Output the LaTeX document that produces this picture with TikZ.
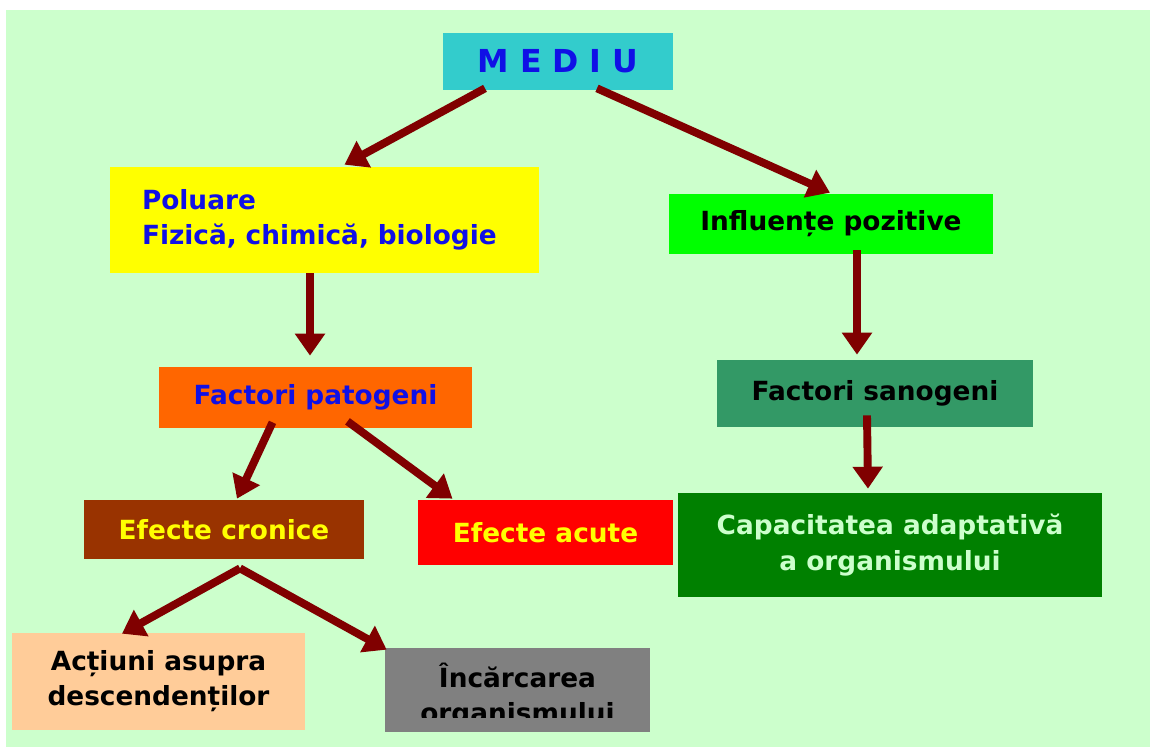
\documentclass[tikz,border=0pt]{standalone}
\usepackage{fontspec}
\setmainfont{DejaVu Sans}
\usetikzlibrary{arrows.meta, calc}
\definecolor{bggreen}{HTML}{CCFFCC}
\definecolor{mediucyan}{HTML}{33CCCC}
\definecolor{textblue}{HTML}{1010E6}
\definecolor{poluyellow}{HTML}{FFFF00}
\definecolor{infgreen}{HTML}{00FF00}
\definecolor{patorange}{HTML}{FF6600}
\definecolor{sanoteal}{HTML}{339966}
\definecolor{cronbrown}{HTML}{993300}
\definecolor{acutered}{HTML}{FF0000}
\definecolor{capgreen}{HTML}{008000}
\definecolor{actpeach}{HTML}{FFCC99}
\definecolor{incgray}{HTML}{808080}
\definecolor{arrowred}{HTML}{800000}

\begin{document}
\begin{tikzpicture}[x=0.02cm, y=-0.02cm, font=\fontsize{15}{20}\selectfont\bfseries, box/.style={inner sep=0pt, align=center}, arr/.style={draw=arrowred, line width=4.5pt, -{Triangle[length=12.5pt, width=16.5pt]}}]
\useasboundingbox (0,0) rectangle (1150,747);
\fill[white] (0,0) rectangle (1150,747); \fill[bggreen] (6,10) rectangle (1150,747);
\node[box, fill=mediucyan, text=textblue, minimum width=4.6cm, minimum height=1.14cm, font=\fontsize{18}{20}\selectfont\bfseries] (mediu) at (558,61.5) {M E D I U};
\node[box, fill=poluyellow, text=textblue, minimum width=8.58cm, minimum height=2.12cm, text width=7.3cm, align=left] (poluare) at (324.5,220) {Poluare\\Fizică, chimică, biologie};
\node[box, fill=infgreen, text=black, minimum width=6.48cm, minimum height=1.2cm] (influente) at (831,224) {Influențe pozitive};
\node[box, fill=patorange, text=textblue, minimum width=6.26cm, minimum height=1.22cm] (patogeni) at (315.5,397.5) {Factori patogeni};
\node[box, fill=sanoteal, text=black, minimum width=6.32cm, minimum height=1.34cm] (sanogeni) at (875,393.5) {Factori sanogeni};
\node[box, fill=cronbrown, text=poluyellow, minimum width=5.6cm, minimum height=1.18cm] (cronice) at (224,529.5) {Efecte cronice};
\node[box, fill=acutered, text=poluyellow, minimum width=5.1cm, minimum height=1.3cm] (acute) at (545.5,532.5) {Efecte acute};
\node[box, fill=capgreen, text=bggreen, minimum width=8.48cm, minimum height=2.08cm] (capacitate) at (890,545) {Capacitatea adaptativă\\a organismului};
\node[box, fill=actpeach, text=black, minimum width=5.86cm, minimum height=1.94cm] (actiuni) at (158.5,681.5) {Acțiuni asupra\\descendenților};
\node[box, fill=incgray, minimum width=5.3cm, minimum height=1.68cm] (incarcarea) at (517.5,690) {};
\begin{scope}
\clip (incarcarea.north west) rectangle ($(incarcarea.east)+(0,27)$);
\node[box, text=black] (incarcaretext) at (517.5,696) {Încărcarea\\organismului};
\end{scope}
\coordinate (fork) at ($(cronice.south)+(16,9)$);
\draw[arr] ($(mediu.south)+(-73,-2)$) -- ($(poluare.north)+(20,-2)$); \draw[arr] ($(mediu.south)+(39,-2)$) -- ($(influente.north)+(-1,-1)$);
\draw[arr] ($(poluare.south)+(-14.5,0)$) -- ($(patogeni.north)+(-5.5,-11)$); \draw[arr] ($(influente.south)+(26,-4)$) -- ($(sanogeni.north)+(-18,-5)$);
\draw[arr] ($(patogeni.south)+(-43,-6)$) -- ($(cronice.north)+(13,-1)$); \draw[arr] ($(patogeni.south)+(32,-7)$) -- ($(acute.north)+(-93,-1)$);
\draw[arr] ($(sanogeni.south)+(-8,-12)$) -- ($(capacitate.north)+(-22,-4)$);
\draw[arr] (fork) -- ($(actiuni.north)+(-36.5,1)$); \draw[arr] (fork) -- ($(incarcarea.north west)+(2,2)$);
\end{tikzpicture}
\end{document}
